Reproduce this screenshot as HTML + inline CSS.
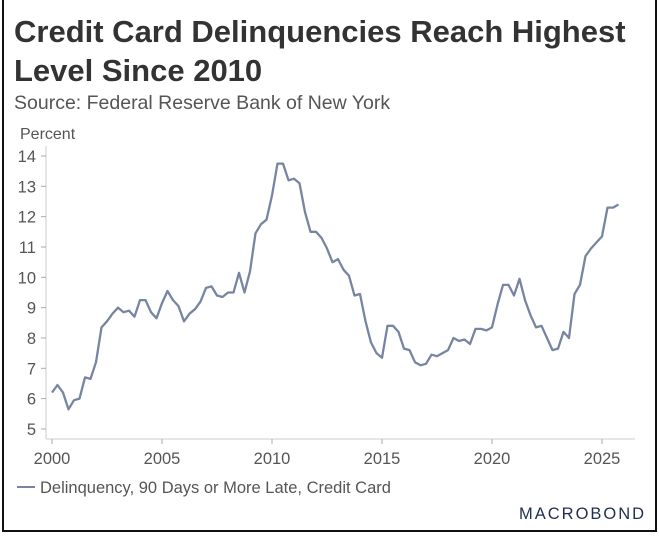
<!DOCTYPE html>
<html><head><style>
html,body{margin:0;padding:0;background:#fff;}
body{width:659px;height:536px;position:relative;overflow:hidden;font-family:"Liberation Sans",sans-serif;}
.frame{position:absolute;left:2px;top:0;width:651px;height:530px;border:2px solid #111;border-top:none;}
.t{position:absolute;left:14px;top:12px;font-weight:bold;font-size:31px;line-height:39px;color:#333;letter-spacing:0;}
.s{position:absolute;left:14px;top:92px;font-size:19.5px;color:#555;}
</style></head><body>
<div class="frame"></div>
<div class="t">Credit Card Delinquencies Reach Highest<br>Level Since 2010</div>
<div class="s">Source: Federal Reserve Bank of New York</div>
<svg id="c" width="659" height="536" style="position:absolute;left:0;top:0" font-family="Liberation Sans, sans-serif"></svg>
<script>
var v=[6.2,6.45,6.2,5.65,5.95,6.0,6.7,6.65,7.2,8.35,8.55,8.8,9.0,8.85,8.9,8.7,9.25,9.25,8.85,8.65,9.15,9.55,9.25,9.05,8.55,8.8,8.95,9.2,9.65,9.7,9.4,9.35,9.5,9.5,10.15,9.5,10.2,11.45,11.75,11.9,12.7,13.75,13.75,13.2,13.25,13.1,12.15,11.5,11.5,11.3,10.95,10.5,10.6,10.25,10.05,9.4,9.45,8.55,7.85,7.5,7.35,8.4,8.4,8.2,7.65,7.6,7.2,7.1,7.15,7.45,7.4,7.5,7.6,8.0,7.9,7.95,7.8,8.3,8.3,8.25,8.35,9.1,9.75,9.75,9.4,9.95,9.25,8.75,8.35,8.4,8.0,7.6,7.65,8.2,8.0,9.45,9.75,10.7,10.95,11.15,11.35,12.3,12.3,12.4];
function X(t){return 52+(t-2000)*22;}function Y(y){return 156+(14-y)*30.33;}
var s='';
s+='<text x="20" y="139" font-size="16" fill="#555">Percent</text>';
s+='<line x1="46" y1="146" x2="46" y2="439" stroke="#ccc"/>';
s+='<line x1="46" y1="439" x2="635" y2="439" stroke="#ccc"/>';
for(var k=5;k<=14;k++){var y=Y(k);s+='<line x1="41" y1="'+y+'" x2="46" y2="'+y+'" stroke="#aaa"/><text x="36" y="'+(y+6)+'" font-size="16.5" fill="#555" text-anchor="end">'+k+'</text>';}
for(var yr=2000;yr<=2025;yr+=5){var x=X(yr);s+='<line x1="'+x+'" y1="439" x2="'+x+'" y2="444" stroke="#aaa"/><text x="'+x+'" y="464" font-size="16.5" fill="#555" text-anchor="middle">'+yr+'</text>';}
var p=v.map(function(a,i){return X(2000+i*0.25).toFixed(1)+','+Y(a).toFixed(1);}).join(' ');
s+='<polyline points="'+p+'" fill="none" stroke="#7785a0" stroke-width="2.3" stroke-linejoin="round"/>';
s+='<line x1="17" y1="487" x2="35" y2="487" stroke="#7785a0" stroke-width="2"/>';
s+='<text x="40" y="493" font-size="16.5" fill="#555">Delinquency, 90 Days or More Late, Credit Card</text>';
s+='<text x="519" y="519" font-size="16.5" fill="#1f2f4d" letter-spacing="2">MACROBOND</text>';
document.getElementById('c').innerHTML=s;
</script>
</body></html>
